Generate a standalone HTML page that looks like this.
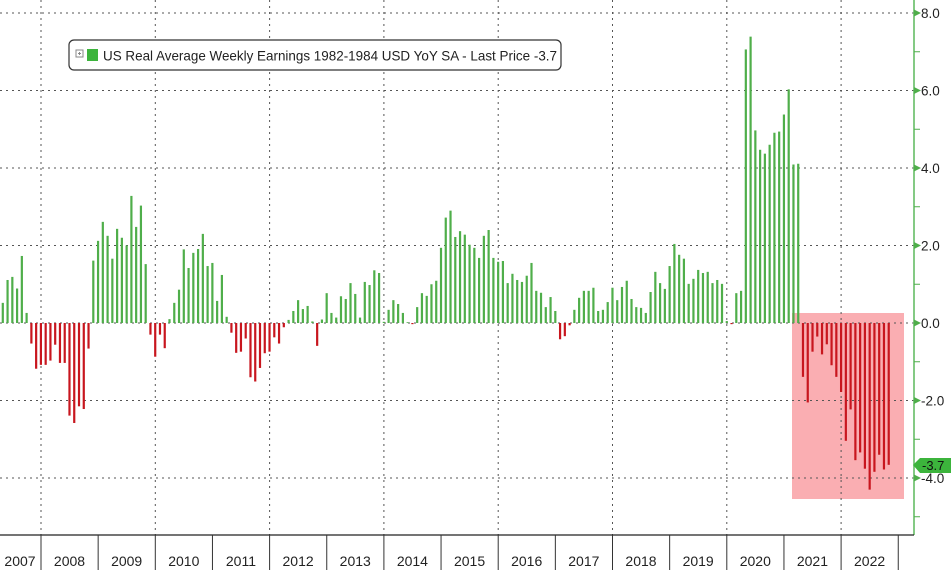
<!DOCTYPE html>
<html><head><meta charset="utf-8"><style>
html,body{margin:0;padding:0;background:#fff;width:951px;height:570px;overflow:hidden}
svg{display:block;font-family:"Liberation Sans",sans-serif}
</style></head><body>
<svg id="s" width="951" height="570" viewBox="0 0 951 570" xmlns="http://www.w3.org/2000/svg">
<rect x="792" y="313" width="112" height="186" fill="#f9a5aa" opacity="0.9"/>
<g id="grid" stroke="#555" stroke-width="1" stroke-dasharray="2,4"></g>
<g id="bars"></g>
<line x1="914" y1="0" x2="914" y2="535" stroke="#5cb85c" stroke-width="1.5"/>
<line x1="0" y1="535" x2="914" y2="535" stroke="#222" stroke-width="1.2"/>
<g id="axis" font-size="13.5" fill="#222"></g>
<g id="xl" font-size="14" fill="#222" text-anchor="middle"></g>
<rect x="69" y="40" width="492" height="30" rx="5" fill="#fff" stroke="#333" stroke-width="1.2"/>
<rect x="76" y="50" width="7" height="7" fill="none" stroke="#888" stroke-width="1"/>
<line x1="78" y1="53.5" x2="81" y2="53.5" stroke="#888"/><line x1="79.5" y1="52" x2="79.5" y2="55" stroke="#888"/>
<rect x="87" y="49" width="11" height="12" fill="#3cb43c"/>
<text x="103" y="60.5" font-size="14" fill="#222" textLength="454" lengthAdjust="spacingAndGlyphs">US Real Average Weekly Earnings 1982-1984 USD YoY SA - Last Price -3.7</text>
<polygon points="913,465 920,458 951,458 951,473 920,473" fill="#3cb43c"/>
<text x="922" y="470" font-size="13" fill="#111">-3.7</text>
</svg>
<script>
var v=[0.52,1.11,1.19,0.89,1.73,0.26,-0.53,-1.18,-1.08,-1.08,-0.97,-0.56,-1.03,-1.03,-2.39,-2.58,-2.15,-2.22,-0.66,1.61,2.12,2.61,2.25,1.66,2.43,2.2,2.0,3.28,2.48,3.03,1.52,-0.3,-0.87,-0.3,-0.65,0.1,0.52,0.86,1.9,1.42,1.81,1.91,2.3,1.47,1.55,0.57,1.24,0.16,-0.25,-0.77,
-0.74,-0.4,-1.4,-1.51,-1.16,-0.78,-0.74,-0.37,-0.53,-0.11,0.08,0.31,0.59,0.36,0.44,0.04,-0.59,0.09,0.77,0.26,0.14,0.69,0.62,1.03,0.75,0.14,1.06,0.98,1.36,1.29,0.03,0.34,0.59,0.49,0.26,0.02,-0.03,0.41,0.77,0.7,1.0,1.09,1.94,2.72,2.9,2.22,2.37,2.28,2.02,1.94,1.68,
2.25,2.4,1.68,1.58,1.6,1.03,1.27,1.11,1.06,1.22,1.55,0.83,0.78,0.41,0.67,0.31,-0.42,-0.34,-0.06,0.34,0.65,0.83,0.83,0.91,0.31,0.34,0.54,0.91,0.59,0.93,1.09,0.62,0.41,0.39,0.26,0.8,1.32,1.03,0.88,1.47,2.04,1.76,1.66,1.01,1.14,1.37,1.29,1.32,1.03,1.11,1.01,0.05,
-0.03,0.77,0.83,7.06,7.39,4.97,4.47,4.37,4.6,4.91,4.94,5.38,6.03,4.09,4.11,
-1.39,-2.05,-0.74,-0.35,-0.81,-0.55,-1.09,-1.39,-1.78,-3.04,-2.23,-3.54,-3.34,-3.76,-4.3,-3.84,-3.4,-3.78,-3.66];
var NS="http://www.w3.org/2000/svg";
function el(p,t,a,txt){var e=document.createElementNS(NS,t);for(var k in a)e.setAttribute(k,a[k]);if(txt!=null)e.textContent=txt;document.getElementById(p).appendChild(e);}
function Y(val){return 323-val*38.75;}
[-4,-2,0,2,4,6,8].forEach(function(g){el("grid","line",{x1:0,y1:Y(g),x2:914,y2:Y(g)});});
for(var yr=2008;yr<=2022;yr+=2){var x=41+(yr-2008)*57.15;el("grid","line",{x1:x,y1:0,x2:x,y2:535});}
v.forEach(function(d,i){var x=2.7+i*4.763;var y0=323,y1=Y(d);
el("bars","rect",{x:(x-1).toFixed(2),y:Math.min(y0,y1).toFixed(2),width:2.2,height:Math.max(0.8,Math.abs(y1-y0)).toFixed(2),fill:d>=0?"#4fae4a":"#c8161e"});});
for(var t=-5;t<=8;t++){var y=Y(t);
if(t%2===0){el("axis","polygon",{points:"914,"+(y-3.5)+" 921,"+y+" 914,"+(y+3.5),fill:"#4fae4a"});
el("axis","text",{x:921,y:y+5},(t<0?"-":"")+Math.abs(t).toFixed(1));}
else el("axis","line",{x1:914,y1:y,x2:920,y2:y,stroke:"#4fae4a","stroke-width":1});}
for(var yr=2008;yr<=2023;yr++){var x=41+(yr-2008)*57.15;el("xl","line",{x1:x,y1:535,x2:x,y2:570,stroke:"#333","stroke-width":1});}
for(var yr=2007;yr<=2022;yr++){var x=(yr==2007)?20:41+(yr-2008)*57.15+28.5;el("xl","text",{x:x,y:566},String(yr));}
</script>
</body></html>
